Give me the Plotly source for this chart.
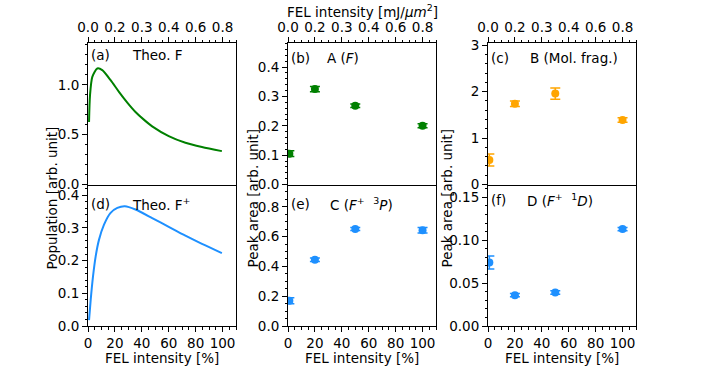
import plotly.graph_objects as go

# theory curves (a) and (d)
theo_f_x = [0.77, 1.5, 3.2, 6.9, 10.6, 16.8, 23.0, 29.2, 35.3, 41.5, 47.7, 60, 72.4, 84.7, 99.5]
theo_f_y = [0.627, 0.896, 1.08, 1.164, 1.148, 1.047, 0.93, 0.822, 0.728, 0.651, 0.584, 0.486, 0.419, 0.376, 0.335]

theo_fp_x = [0.77, 2.0, 3.7, 5.7, 8.2, 11.9, 16.8, 21.8, 27.4, 35.3, 47.7, 60, 72.4, 84.7, 99.5]
theo_fp_y = [0.018, 0.08, 0.151, 0.213, 0.264, 0.31, 0.346, 0.361, 0.366, 0.356, 0.330, 0.303, 0.276, 0.251, 0.223]

# measured peak areas
fel_pct = [1, 20, 50, 100]
peak_a = [0.105, 0.325, 0.268, 0.200]
peak_a_err = [0.010, 0.009, 0.006, 0.007]
peak_b = [0.53, 1.74, 1.96, 1.39]
peak_b_err = [0.13, 0.06, 0.12, 0.05]
peak_c = [0.17, 0.445, 0.652, 0.643]
peak_c_err = [0.02, 0.012, 0.01, 0.018]
peak_d = [0.074, 0.036, 0.039, 0.113]
peak_d_err = [0.0075, 0.002, 0.002, 0.002]

x_ticks = [0, 20, 40, 60, 80, 100]
top_ticktext = ['0.0', '0.2', '0.3', '0.4', '0.6', '0.8']

GREEN, BLUE, ORANGE = '#008000', '#1E90FF', '#FFA500'
FONT = 'DejaVu Sans'
FS = 13.5

W, H = 706, 366
L, R, T, B = 88, 70, 43, 40
PW, PH = W - L - R, H - T - B


def px(x):
    return (x - L) / PW


def py(y):
    return (H - B - y) / PH


cols = [[0, 148 / PW], [200 / PW, 348 / PW], [400 / PW, 1]]

fig = go.Figure()

fig.add_trace(go.Scatter(x=theo_f_x, y=theo_f_y, mode='lines',
                         line=dict(color=GREEN, width=2, shape='spline', smoothing=0.7),
                         xaxis='x', yaxis='y'))
fig.add_trace(go.Scatter(x=theo_fp_x, y=theo_fp_y, mode='lines',
                         line=dict(color=BLUE, width=2, shape='spline', smoothing=0.7),
                         xaxis='x4', yaxis='y4'))


def points(y, err, color, xa, ya):
    return go.Scatter(
        x=fel_pct, y=y, mode='markers', xaxis=xa, yaxis=ya,
        marker=dict(color=color, size=8),
        error_y=dict(type='data', array=err, color=color, thickness=1.5, width=5),
    )


fig.add_trace(points(peak_a, peak_a_err, GREEN, 'x2', 'y2'))
fig.add_trace(points(peak_b, peak_b_err, ORANGE, 'x3', 'y3'))
fig.add_trace(points(peak_c, peak_c_err, BLUE, 'x5', 'y5'))
fig.add_trace(points(peak_d, peak_d_err, BLUE, 'x6', 'y6'))

axis_common = dict(
    showline=True, linecolor='black', linewidth=1,
    ticks='outside', ticklen=5, tickwidth=1, tickcolor='black',
    showgrid=False, zeroline=False, automargin=False,
    tickfont=dict(family=FONT, size=FS, color='black'),
)

layout = dict(
    width=W, height=H, autosize=False,
    margin=dict(l=L, r=R, t=T, b=B),
    plot_bgcolor='white', paper_bgcolor='white',
    showlegend=False,
    font=dict(family=FONT, size=FS, color='black'),
)

# x axes: top row shows the mJ/um^2 labels on top, bottom row the % scale
for i in range(6):
    n = i + 1
    key = 'xaxis' if n == 1 else f'xaxis{n}'
    top = i < 3
    layout[key] = dict(
        axis_common,
        mirror=top,  # the top row's mirrored line is the shared boundary
        domain=cols[i % 3], anchor='y' if n == 1 else f'y{n}',
        range=[0, 110], tickvals=x_ticks,
        ticktext=top_ticktext if top else [str(v) for v in x_ticks],
        side='top' if top else 'bottom',
        minor=dict(ticks='outside', ticklen=2.5, dtick=5, tick0=0, tickcolor='black', tickwidth=0.8),
    )

y_specs = [
    dict(range=[0, 1.42], tickvals=[0, 0.5, 1.0], tickformat='.1f', minor=0.1),
    dict(range=[0, 0.482], tickvals=[0, 0.1, 0.2, 0.3, 0.4], tickformat='.1f', minor=0.02),
    dict(range=[0, 3.05], tickvals=[0, 1, 2, 3], tickformat='d', minor=0.2),
    dict(range=[0, 0.4325], tickvals=[0, 0.1, 0.2, 0.3, 0.4], tickformat='.1f', minor=0.02),
    dict(range=[0, 0.95], tickvals=[0, 0.2, 0.4, 0.6, 0.8], tickformat='.1f', minor=0.05),
    dict(range=[0, 0.165], tickvals=[0, 0.05, 0.10, 0.15], tickformat='.2f', minor=0.01),
]
for i, spec in enumerate(y_specs):
    n = i + 1
    key = 'yaxis' if n == 1 else f'yaxis{n}'
    layout[key] = dict(
        axis_common,
        mirror=True,
        domain=[0.5, 1] if i < 3 else [0, 0.5],
        anchor='x' if n == 1 else f'x{n}',
        range=spec['range'], tickvals=spec['tickvals'], tickformat=spec['tickformat'],
        minor=dict(ticks='outside', ticklen=2.5, dtick=spec['minor'], tick0=0, tickcolor='black', tickwidth=0.8),
    )

fig.update_layout(**layout)

txt = dict(showarrow=False, font=dict(family=FONT, size=FS, color='black'))

# panel letters and titles (pixel positions)
panels = [
    (0, 55.5, '(a)', 'Theo. F', 129.5),
    (1, 57.5, '(b)', 'A (<i>F</i>)', 325),
    (2, 58.5, '(c)', 'B (Mol. frag.)', 527.5),
    (0, 203.5, '(d)', 'Theo. F<sup>+</sup>', 129.5),
    (1, 204, '(e)', 'C (<i>F</i><sup>+</sup>  <sup>3</sup><i>P</i>)', 328),
    (2, 200, '(f)', 'D (<i>F</i><sup>+</sup>  <sup>1</sup><i>D</i>)', 525),
]
col_left = [88.3, 288.3, 488.3]
for c, y, letter, label, lx in panels:
    fig.add_annotation(x=px(col_left[c] + 0.5), y=py(y), xref='paper', yref='paper',
                       xanchor='left', yanchor='middle', text=letter, **txt)
    fig.add_annotation(x=px(lx), y=py(y), xref='paper', yref='paper',
                       xanchor='left', yanchor='middle', text=label, **txt)

# axis titles
for cx in [162, 362, 562]:
    fig.add_annotation(x=px(cx), y=py(357.5), xref='paper', yref='paper',
                       xanchor='center', yanchor='middle', text='FEL intensity [%]', **txt)
fig.add_annotation(x=px(362), y=py(11), xref='paper', yref='paper', xanchor='center', yanchor='middle',
                   text='FEL intensity [mJ/<i>μm</i><sup>2</sup>]', **txt)
for cx, label in [(51, 'Population [arb. unit]'), (252, 'Peak area [arb. unit]'), (446, 'Peak area [arb. unit]')]:
    fig.add_annotation(x=px(cx), y=py(198.5), xref='paper', yref='paper', xanchor='center', yanchor='middle',
                       textangle=-90, text=label, **txt)

# the page body has a default margin; remove it so the figure fills the window
fig.write_html('out.html', config={'displayModeBar': False},
               post_script="document.body.style.margin='0';")
